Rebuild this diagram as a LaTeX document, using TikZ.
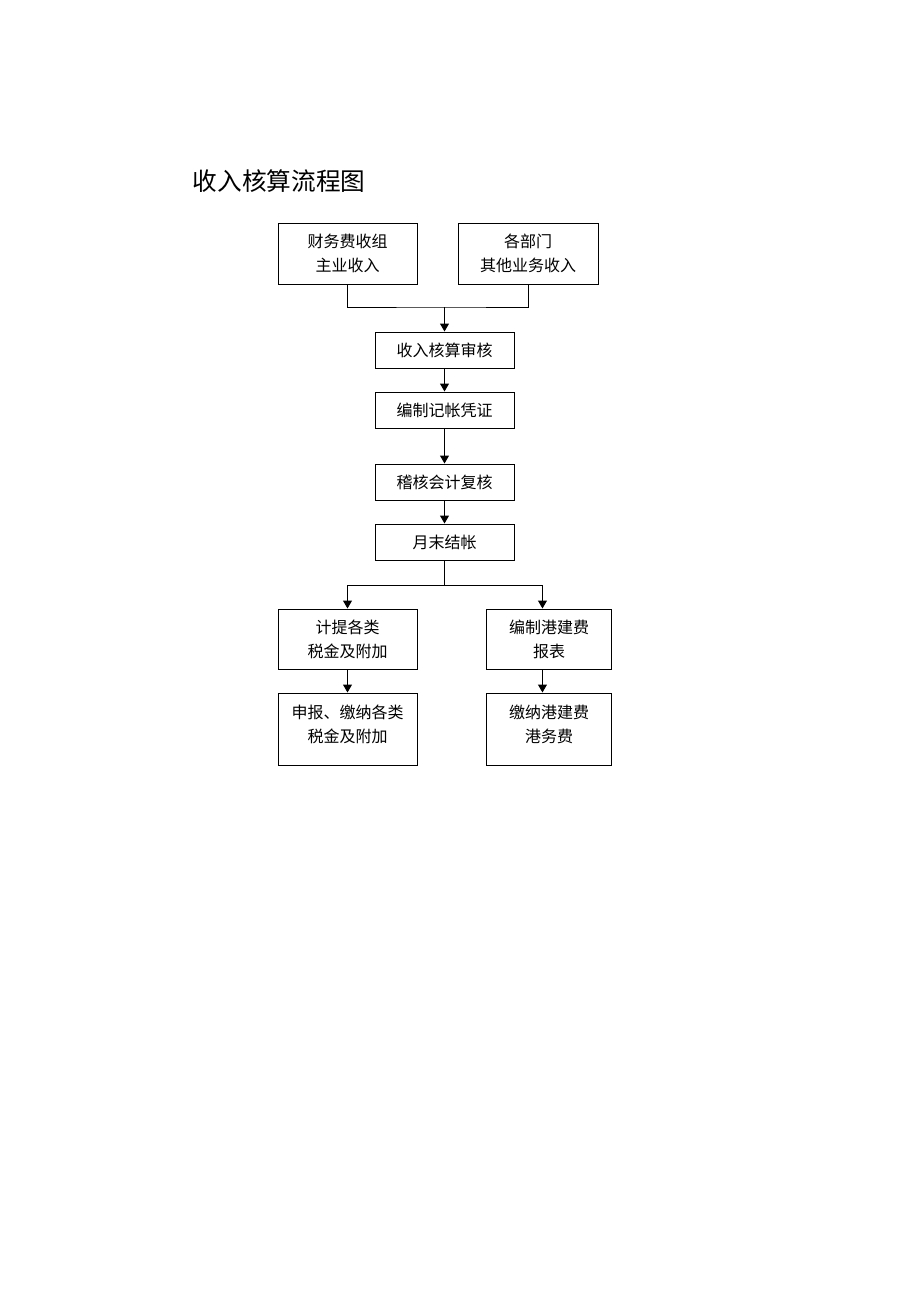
\documentclass[tikz,border=0pt]{standalone}
\usepackage{fontspec}
\newfontfamily\cjk{Noto Sans CJK SC}
\usepackage{tikz}
\usetikzlibrary{positioning,arrows.meta}

\begin{document}
\begin{tikzpicture}[x=0.75pt, y=-0.75pt,
  box/.style={draw, line width=0.75pt, align=center, inner sep=0pt,
    font=\cjk\fontsize{12pt}{18pt}\selectfont},
  flow/.style={line width=0.75pt, -{Triangle[length=6pt, width=6.75pt]}},
  link/.style={line width=0.75pt}]
\useasboundingbox (0,0) rectangle (920,1302);

\node[anchor=west, font=\cjk\fontsize{18.5pt}{22pt}\selectfont] (title) at (188,181) {收入核算流程图};

\node[box, minimum width=104.25pt, minimum height=45.75pt] (income_main) at (347.5,253.5) {财务费收组\\主业收入};
\node[box, minimum width=105pt, minimum height=45.75pt] (income_other) at (528,253.5) {各部门\\其他业务收入};
\node[box, minimum width=104.25pt, minimum height=27pt] (audit) at (444.5,350) {收入核算审核};
\node[box, minimum width=104.25pt, minimum height=27pt] (voucher) at (444.5,410) {编制记帐凭证};
\node[box, minimum width=104.25pt, minimum height=27pt] (recheck) at (444.5,482) {稽核会计复核};
\node[box, minimum width=104.25pt, minimum height=27pt] (closing) at (444.5,542) {月末结帐};
\node[box, minimum width=104.25pt, minimum height=45pt] (tax_calc) at (347.5,639) {计提各类\\税金及附加};
\node[box, minimum width=93.75pt, minimum height=45pt] (port_report) at (549,639) {编制港建费\\报表};
\node[box, minimum width=104.25pt, minimum height=54pt] (tax_pay) at (347.5,729)
  {\raisebox{-0.75pt}[0pt][0pt]{\begin{tabular}{@{}c@{}}申报、缴纳各类\\税金及附加\end{tabular}}};
\node[box, minimum width=93.75pt, minimum height=54pt] (port_pay) at (549,729)
  {\raisebox{-0.75pt}[0pt][0pt]{\begin{tabular}{@{}c@{}}缴纳港建费\\港务费\end{tabular}}};

\coordinate (join_top) at (444.5,307);
\coordinate (join_bot) at (444.5,585);

\draw[link] (income_main.south) |- (join_top) -| (income_other.south);
\draw[flow] (join_top) -- (audit.north);
\draw[flow] (audit) -- (voucher);
\draw[flow] (voucher) -- (recheck);
\draw[flow] (recheck) -- (closing);
\draw[link] (closing.south) -- (join_bot);
\draw[flow] (join_bot) -| (tax_calc.north);
\draw[flow] (join_bot) -| ([xshift=-4.9pt]port_report.north);
\draw[flow] (tax_calc) -- (tax_pay);
\draw[flow] ([xshift=-4.9pt]port_report.south) -- ([xshift=-4.9pt]port_pay.north);

\end{tikzpicture}
\end{document}
